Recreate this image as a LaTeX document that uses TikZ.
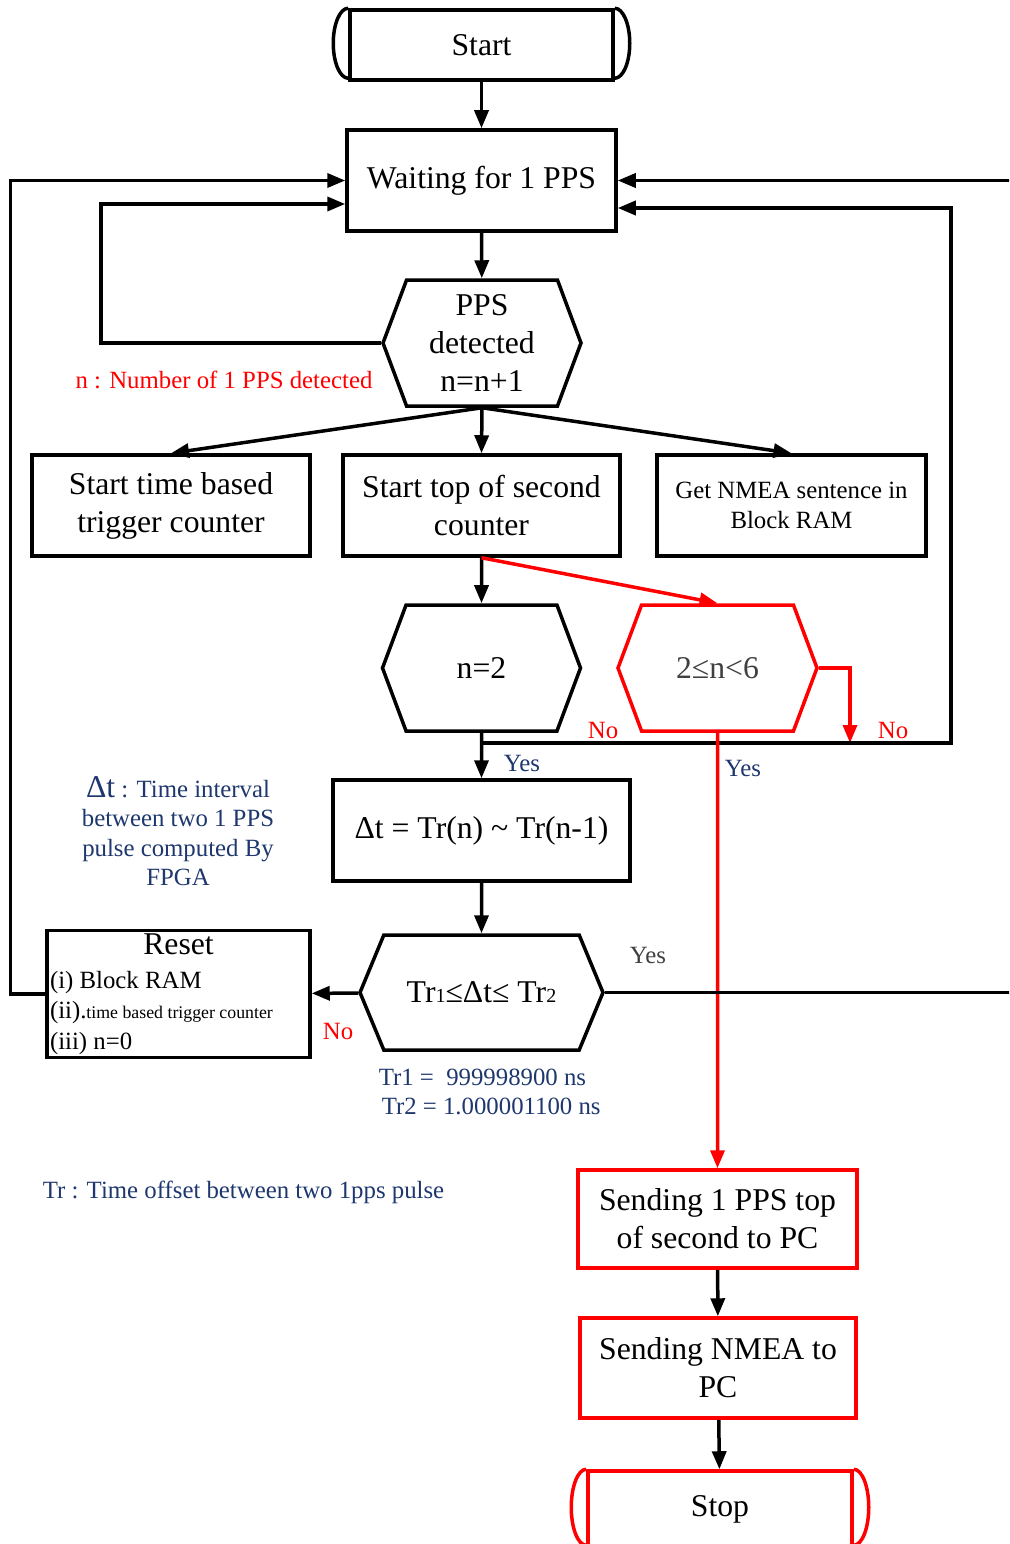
\documentclass[tikz,border=0pt]{standalone}
\usepackage{fontspec}
\setmainfont{Liberation Serif}
\usetikzlibrary{arrows.meta,shapes.symbols}
\definecolor{tblue}{RGB}{30,55,110}
\definecolor{dgray}{RGB}{64,64,64}
\newcommand{\fL}{\fontsize{31.7}{38}\selectfont}
\newcommand{\fM}{\fontsize{24.8}{29.5}\selectfont}
\newcommand{\fS}{\fontsize{17.8}{21}\selectfont}
\newcommand{\fD}{\fontsize{20}{24}\selectfont}
\begin{document}
\begin{tikzpicture}[x=1pt,y=-1pt,line width=3.5pt,>={Triangle[length=18pt,width=14pt]},
    box/.style={draw,minimum height=101,align=center,font=\fL,inner sep=2pt},
    hexa/.style={draw,signal,signal to=west and east,signal pointer angle=139,minimum width=198,minimum height=126,align=center,font=\fL,inner sep=0pt},
    term/.style={draw,minimum width=263,minimum height=70,font=\fL}]
  \useasboundingbox(0,0)rectangle(1009,1544);
  \clip(0,0)rectangle(1009,1544);
  % 処理ブロック
  \node[term](start)at(481.5,45){Start};%開始
  \draw(start.north west)arc[start angle=90,end angle=270,x radius=15pt,y radius=35pt];
  \draw(start.north east)arc[start angle=90,end angle=-90,x radius=15pt,y radius=35pt];
  \node[box,minimum width=269](wait)at(481.5,180.5){Waiting for 1 PPS};%待機
  \node[hexa](pps)at(482,343){PPS\\detected\\n=n+1};
  \node[box,minimum width=278](stb)at(171,505.5){Start time based\\trigger counter};
  \node[box,minimum width=277](sos)at(481.5,505.5){Start top of second\\counter};
  \node[box,minimum width=269,font=\fM](gnm)at(791.5,505.5){Get NMEA sentence in\\Block RAM};
  \node[hexa](n2)at(481.5,668){n=2};
  \node[hexa,draw=red,text=dgray,minimum width=199](nr)at(717.5,668){2≤n<6};
  \node[box,minimum width=297](dt)at(481.5,830.5){Δt = Tr(n) \textasciitilde{} Tr(n-1)};
  \node[hexa,minimum width=243,minimum height=115,signal pointer angle=135](tr)at(481.5,992.5){Tr{\fD 1}≤Δt≤ Tr{\fD 2}};
  \node[box,minimum width=263,minimum height=127,align=flush left,font=\fontsize{24.8}{30.5}\selectfont,inner xsep=3pt,text width=257pt](reset)at(178.5,994){\makebox[257pt]{\fL Reset}\\[3pt](i) Block RAM\\(ii).{\fS time based trigger counter}\\(iii) n=0};%リセット
  \node[box,draw=red,minimum width=279,minimum height=98](s1)at(717.5,1219){Sending 1 PPS top\\of second to PC};
  \node[box,draw=red,minimum width=276,minimum height=100](s2)at(718,1368){Sending NMEA to\\PC};
  \node[term,draw=red,minimum width=264,minimum height=76](stop)at(720,1509){Stop};%終了
  \draw[red](stop.north west)arc[start angle=90,end angle=270,x radius=15pt,y radius=38pt];
  \draw[red](stop.north east)arc[start angle=90,end angle=-90,x radius=15pt,y radius=38pt];
  % 注記
  \node[red,font=\fM](nnote)at(224,380){n : Number of 1 PPS detected};
  \node[tblue,align=center,font=\fM](dtnote)at(178,831){{\fL Δt} : Time interval\\between two 1 PPS\\pulse computed By\\FPGA};
  \node[tblue,align=left,font=\fM,anchor=west,inner sep=0pt](trval)at(377,1092){Tr1 =\ \ 999998900 ns\\\hspace*{3pt}Tr2 = 1.000001100 ns};
  \node[tblue,font=\fM](trnote)at(243.5,1192){Tr : Time offset between two 1pps pulse};
  \node[red,font=\fM](no1)at(603,730){No};
  \node[red,font=\fM](no2)at(893,730){No};
  \node[red,font=\fM](no3)at(338,1031){No};
  \node[tblue,font=\fM](yes1)at(522,763){Yes};
  \node[tblue,font=\fM](yes2)at(743,768){Yes};
  \node[dgray,font=\fM](yes3)at(648,955){Yes};
  % 接続線
  \coordinate(nj)at(481,743);
  \coordinate(rj)at(850,743);
  \draw[->](start)--(wait);
  \draw[->](wait)--(pps);
  \draw[->](pps.west)--++(-280,0)|-([yshift=-23.5pt]wait.west);%検出なし
  \draw[->](pps.south)--(stb.north);
  \draw[->](pps.south)--(sos.north);
  \draw[->](pps.south)--(gnm.north);
  \draw[->](sos)--(n2);
  \draw[->,red](sos.south)--(nr.north);
  \draw[->,red](nr.east)-|(rj);
  \draw[->](nj)--(951,743)|-([yshift=-27.5pt]wait.east);%n=2でない
  \draw[->](n2)--(dt);
  \draw[->,red](nr)--(s1);
  \draw[->](dt)--(tr);
  \draw[->](tr)--(reset);
  \draw[->](reset.west)--++(-35,0)|-(wait.west);
  \draw[->](tr.east)--++(440,0)|-(wait.east);
  \draw[->](s1)--(s2);
  \draw[->](s2)--(stop);
\end{tikzpicture}
\end{document}
